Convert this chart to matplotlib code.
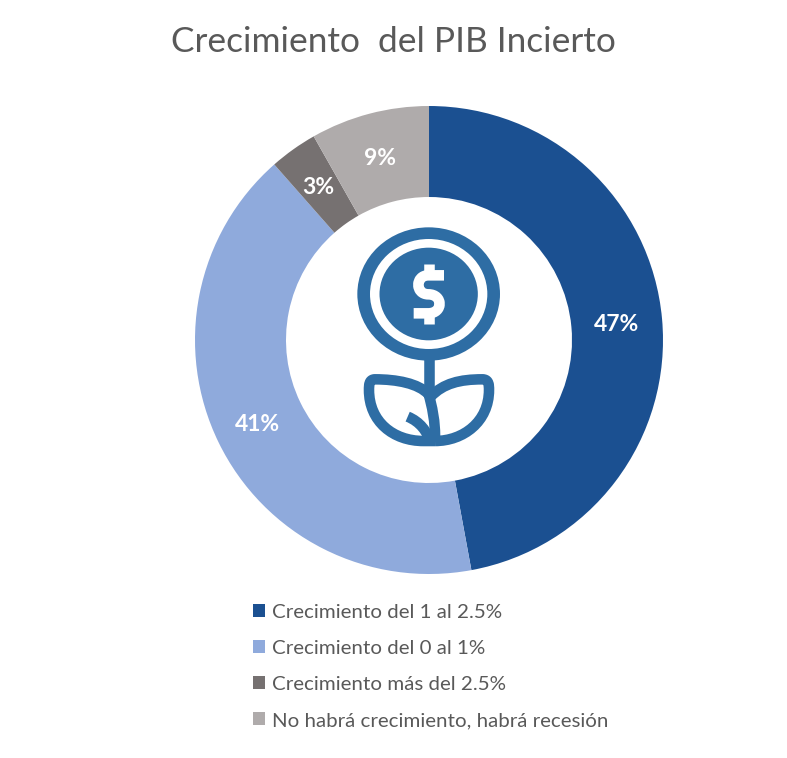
import matplotlib
matplotlib.use('Agg')
import matplotlib.pyplot as plt
from matplotlib.patches import Ellipse, PathPatch
from matplotlib.path import Path

categories = ['Crecimiento del 1 al 2.5%', 'Crecimiento del 0 al 1%',
              'Crecimiento más del 2.5%', 'No habrá crecimiento, habrá recesión']
# angulos medidos en la imagen, las etiquetas son las que trae el grafico
values = [47.1, 41.4, 3.3, 8.2]
pct_labels = ['47%', '41%', '3%', '9%']
colors = ['#1B5091', '#8FAADC', '#767171', '#AFABAB']
title = 'Crecimiento  del PIB Incierto'

ICON = '#2E6DA4'
GREY = '#595959'
H = 758

plt.rcParams['font.family'] = ['Lato', 'DejaVu Sans']

fig = plt.figure(figsize=(7.87, 7.58), dpi=100)
ax = fig.add_axes([0, 0, 1, 1])

# dona
wedges, _, pcts = ax.pie(values, colors=colors, startangle=90, counterclock=False,
                         center=(429, H - 340), radius=234, autopct='%.0f%%', pctdistance=0.81,
                         wedgeprops=dict(width=91, linewidth=0),
                         textprops=dict(color='white', fontsize=16.5, fontweight='bold'))
for t, label in zip(pcts, pct_labels):
    t.set_text(label)
    x, y = t.get_position()
    t.set_position((x - 1, y - 2))
ax.set_xlim(0, 787)
ax.set_ylim(0, H)
ax.set_aspect('equal')
ax.axis('off')

ax.text(393, H - 42, title, ha='center', va='center', fontsize=25.4, color=GREY)


def z(x, y):
    # coordenadas del recorte ampliado -> coordenadas de la figura
    return 340 + x / 3, H - (215 + y / 3)


def stroke(points, codes, lw=7.6, color=ICON):
    path = Path([z(*p) for p in points], codes)
    ax.add_patch(PathPatch(path, fill=False, ec=color, lw=lw,
                           capstyle='butt', joinstyle='round'))


M, L, C = Path.MOVETO, Path.LINETO, Path.CURVE4

# icono: moneda
cx, cy = z(266, 237)
ax.add_patch(Ellipse((cx, cy), 428 / 3, 400 / 3, fc=ICON, ec='none'))
ax.add_patch(Ellipse((cx, cy), 352 / 3, 330 / 3, fc='white', ec='none'))
ax.add_patch(Ellipse((cx, cy), 295 / 3, 278 / 3, fc=ICON, ec='none'))

# signo de dolar
stroke([(312, 181), (265, 181),
        (225, 181), (225, 238), (265, 238),
        (310, 238), (310, 295), (265, 295),
        (221, 295)],
       [M, L, C, C, C, C, C, C, L], color='white')
stroke([(266, 148), (266, 185)], [M, L], color='white')
stroke([(266, 292), (266, 326)], [M, L], color='white')

# tallo y hojas
stroke([(266, 430), (266, 530)], [M, L])
stroke([(285, 678), (287, 620), (275, 570), (266, 538),
        (235, 505), (170, 493), (105, 493),
        (87, 493), (87, 510), (87, 525),
        (87, 620), (160, 678), (250, 678),
        (285, 678)],
       [M, C, C, C, C, C, C, C, C, C, C, C, C, L])
stroke([(272, 545), (310, 505), (360, 493), (427, 493),
        (447, 493), (447, 510), (447, 525),
        (447, 620), (370, 678), (285, 678)],
       [M, C, C, C, C, C, C, C, C, C])
stroke([(203, 605), (240, 620), (262, 650), (270, 680)], [M, C, C, C])

leg = ax.legend(wedges, categories, loc='upper left', bbox_to_anchor=(253, H - 604),
                bbox_transform=ax.transData, frameon=False, fontsize=14.75,
                labelcolor=GREY, handlelength=0.6, handleheight=0.6, handletextpad=0.35,
                labelspacing=0.93, borderpad=0, borderaxespad=0)

plt.savefig('out.png', dpi=100)
